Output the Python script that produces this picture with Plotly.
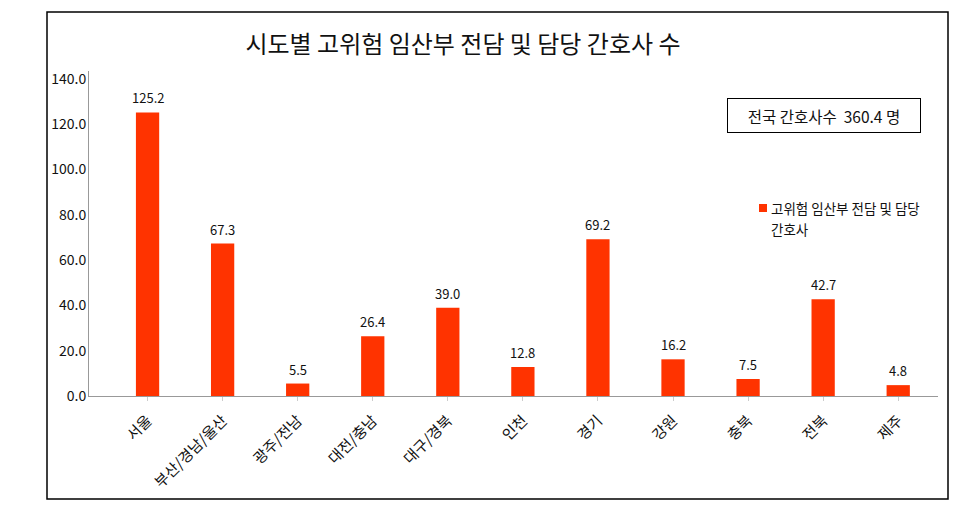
import plotly.graph_objects as go

categories = ["서울", "부산/경남/울산", "광주/전남", "대전/충남", "대구/경북", "인천",
              "경기", "강원", "충북", "전북", "제주"]
values = [125.2, 67.3, 5.5, 26.4, 39.0, 12.8, 69.2, 16.2, 7.5, 42.7, 4.8]
legend_line1 = "고위험 임산부 전담 및 담당"
legend_line2 = "간호사"
title_text = "시도별 고위험 임산부 전담 및 담당 간호사 수"
total_text = "전국 간호사수\u00a0\u00a0360.4 명"
y_ticks = [0, 20, 40, 60, 80, 100, 120, 140]

FONT = "Noto Sans CJK KR, Malgun Gothic, sans-serif"
BAR = "#FF3300"

W, H = 979, 510
L, R, T, B = 89, 41, 71, 114
PW, PH = W - L - R, H - T - B


def px(xp):
    return (xp - L) / PW


def py(yp):
    return (H - B - yp) / PH


fig = go.Figure()
fig.add_trace(go.Bar(
    x=list(range(len(categories))), y=values, name=legend_line1 + " " + legend_line2,
    marker=dict(color=BAR, line=dict(width=0)), width=0.31,
    showlegend=False,
))

annotations = []
for i, v in enumerate(values):
    annotations.append(dict(
        x=i, y=v, xref="x", yref="y", text=f"{v:.1f}", showarrow=False,
        yanchor="bottom", yshift=3, font=dict(family=FONT, size=13, color="#111"),
    ))
annotations.append(dict(
    x=px(824), y=py(115), xref="paper", yref="paper", text=total_text, showarrow=False,
    xanchor="center", yanchor="middle", width=188, height=29, borderpad=2,
    bordercolor="#000", borderwidth=1, bgcolor="white",
    font=dict(family=FONT, size=15.5, color="#111"),
))
# legend text (two lines, as in the reference)
annotations.append(dict(
    x=px(769), y=py(208), xref="paper", yref="paper", text=legend_line1, showarrow=False,
    xanchor="left", yanchor="middle", font=dict(family=FONT, size=13.5, color="#111"),
))
annotations.append(dict(
    x=px(769), y=py(229), xref="paper", yref="paper", text=legend_line2, showarrow=False,
    xanchor="left", yanchor="middle", font=dict(family=FONT, size=13.5, color="#111"),
))

shapes = [
    dict(type="rect", xref="paper", yref="paper",
         x0=px(47), x1=px(948), y0=py(499), y1=py(12),
         line=dict(color="#000", width=1.5), layer="below"),
    # legend swatch
    dict(type="rect", xref="paper", yref="paper",
         x0=px(759), x1=px(767), y0=py(212), y1=py(204),
         line=dict(width=0), fillcolor=BAR),
]

fig.update_layout(
    width=W, height=H,
    margin=dict(l=L, r=R, t=T, b=B),
    paper_bgcolor="white", plot_bgcolor="white",
    title=dict(text=title_text, x=463 / W, xanchor="center", y=1 - 45 / H, yanchor="middle",
               font=dict(family=FONT, size=24, color="#111")),
    font=dict(family=FONT, size=13, color="#111"),
    showlegend=False,
    annotations=annotations,
    shapes=shapes,
)

fig.update_xaxes(
    range=[-0.78, 10.53],
    tickmode="array", tickvals=list(range(len(categories))), ticktext=categories,
    tickangle=-45, showline=True, linecolor="#999", linewidth=1,
    ticks="outside", ticklen=4, tickcolor="#ccc", tickson="boundaries",
    showgrid=False, zeroline=False, ticklabelstandoff=5,
    tickfont=dict(family=FONT, size=15, color="#111"),
)
fig.update_yaxes(
    range=[0, 143.5], tickmode="array", tickvals=y_ticks,
    ticktext=[f"{t:.1f}" for t in y_ticks],
    showline=True, linecolor="#999", linewidth=1, ticks="",
    showgrid=False, zeroline=False, ticklabelstandoff=-1,
    tickfont=dict(family=FONT, size=14, color="#111"),
)

fig.write_html("out.html", config={"displayModeBar": False},
               post_script="document.body.style.margin='0';")
